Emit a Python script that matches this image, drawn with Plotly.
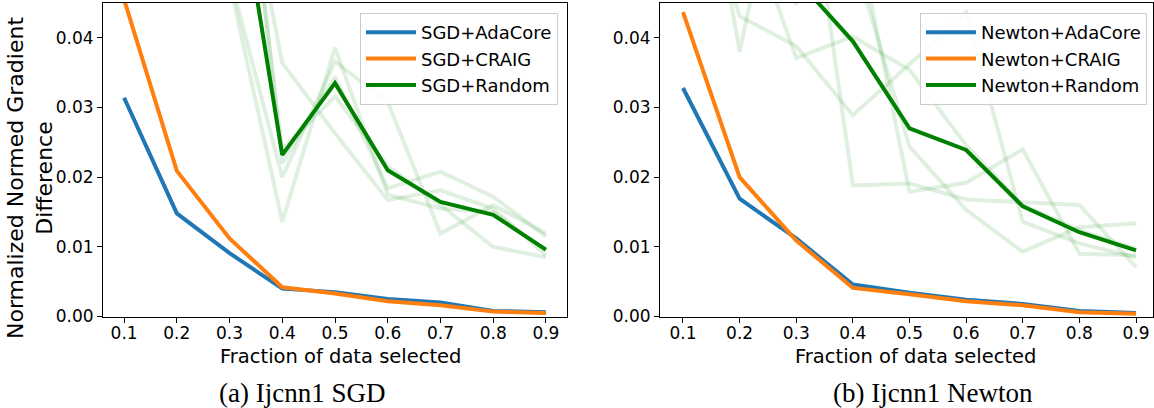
import plotly.graph_objects as go

# ---------------- data ----------------
fractions = [0.1, 0.2, 0.3, 0.4, 0.5, 0.6, 0.7, 0.8, 0.9]
x_ticks = [0.1, 0.2, 0.3, 0.4, 0.5, 0.6, 0.7, 0.8, 0.9]
x_tick_labels = ["0.1", "0.2", "0.3", "0.4", "0.5", "0.6", "0.7", "0.8", "0.9"]
y_ticks = [0.0, 0.01, 0.02, 0.03, 0.04]
y_tick_labels = ["0.00", "0.01", "0.02", "0.03", "0.04"]

# (a) Ijcnn1 SGD
sgd_adacore = [0.0314, 0.0148, 0.0091, 0.0040, 0.0035, 0.0025, 0.0020, 0.0008, 0.0006]
sgd_craig = [0.0455, 0.0209, 0.0112, 0.0042, 0.0033, 0.0022, 0.0016, 0.0007, 0.0005]
sgd_random = [0.125, 0.095, 0.070, 0.0232, 0.0335, 0.0210, 0.01645, 0.0146, 0.0096]
sgd_random_run1 = [0.120, 0.085, 0.048, 0.0136, 0.0386, 0.0175, 0.0155, 0.0150, 0.0094]
sgd_random_run2 = [0.130, 0.100, 0.075, 0.0364, 0.0263, 0.0167, 0.0181, 0.0155, 0.0088]
sgd_random_run3 = [0.115, 0.090, 0.049, 0.0200, 0.0366, 0.0308, 0.0119, 0.0160, 0.0119]
sgd_random_run4 = [0.125, 0.095, 0.090, 0.0220, 0.0344, 0.0184, 0.0208, 0.0172, 0.0115]
sgd_random_run5 = [0.135, 0.105, 0.085, 0.0240, 0.0316, 0.0216, 0.0160, 0.0100, 0.0085]

# (b) Ijcnn1 Newton
newton_adacore = [0.0328, 0.0169, 0.0112, 0.0046, 0.0034, 0.0024, 0.0018, 0.0008, 0.0005]
newton_craig = [0.0437, 0.0200, 0.0109, 0.0041, 0.0032, 0.0022, 0.0016, 0.0006, 0.0004]
newton_random = [0.080, 0.062, 0.0485, 0.0395, 0.0270, 0.0239, 0.0158, 0.0121, 0.0095]
newton_random_run1 = [0.085, 0.038, 0.076, 0.0188, 0.0191, 0.0168, 0.0164, 0.0160, 0.0071]
newton_random_run2 = [0.070, 0.0431, 0.0388, 0.0289, 0.0362, 0.0436, 0.0136, 0.0105, 0.0085]
newton_random_run3 = [0.090, 0.060, 0.0371, 0.0402, 0.0354, 0.0246, 0.0160, 0.0124, 0.0097]
newton_random_run4 = [0.100, 0.070, 0.050, 0.058, 0.0179, 0.0192, 0.0240, 0.0090, 0.0088]
newton_random_run5 = [0.110, 0.075, 0.045, 0.052, 0.0244, 0.0153, 0.0093, 0.0128, 0.0134]

sgd_runs = [sgd_random_run1, sgd_random_run2, sgd_random_run3, sgd_random_run4, sgd_random_run5]
newton_runs = [newton_random_run1, newton_random_run2, newton_random_run3,
               newton_random_run4, newton_random_run5]

sgd_names = ["SGD+AdaCore", "SGD+CRAIG", "SGD+Random"]
newton_names = ["Newton+AdaCore", "Newton+CRAIG", "Newton+Random"]

# ---------------- styles ----------------
BLUE = "#1f77b4"
ORANGE = "#ff7f0e"
GREEN = "#008000"
FAINT = "rgba(0,128,0,0.12)"
LW = 4
W, H = 1154, 408
FONT = "DejaVu Sans"

fig = go.Figure()


def add_panel(xa, ya, legend, runs, ada, craig, rnd, names):
    for r in runs:
        fig.add_trace(go.Scatter(x=fractions, y=r, mode="lines", xaxis=xa, yaxis=ya,
                                 line=dict(color=FAINT, width=LW), showlegend=False,
                                 hoverinfo="skip"))
    for i, (vals, col, nm) in enumerate([(ada, BLUE, names[0]), (craig, ORANGE, names[1]),
                                         (rnd, GREEN, names[2])]):
        fig.add_trace(go.Scatter(x=fractions, y=vals, mode="lines", xaxis=xa, yaxis=ya,
                                 name=nm, legend=legend,
                                 line=dict(color=col, width=LW)))


add_panel("x", "y", "legend", sgd_runs, sgd_adacore, sgd_craig, sgd_random, sgd_names)
add_panel("x2", "y2", "legend2", newton_runs, newton_adacore, newton_craig, newton_random,
          newton_names)

y_bot = 1 - 316.5 / H
y_top = 1 - 3 / H

axis_common = dict(showline=True, mirror=True, linecolor="black", linewidth=1,
                   ticks="outside", ticklen=5, tickwidth=1.3, tickcolor="black",
                   showgrid=False, zeroline=False, automargin=False,
                   tickfont=dict(family=FONT, size=17, color="black"))

legend_common = dict(yanchor="top", xanchor="right", y=1 - 13 / H,
                     bgcolor="rgba(255,255,255,0.85)", bordercolor="#cccccc", borderwidth=1,
                     itemwidth=50,
                     font=dict(family=FONT, size=18, color="black"))

fig.update_layout(
    width=W, height=H,
    margin=dict(l=0, r=0, t=0, b=0, autoexpand=False),
    paper_bgcolor="white", plot_bgcolor="white",
    xaxis=dict(domain=[103 / W, 567 / W], range=[0.06, 0.94], ticklabelstandoff=-4,
               tickvals=x_ticks, ticktext=x_tick_labels, anchor="y", **axis_common),
    yaxis=dict(domain=[y_bot, y_top], range=[0, 0.045],
               tickvals=y_ticks, ticktext=y_tick_labels, anchor="x", **axis_common),
    xaxis2=dict(domain=[660 / W, 1153 / W], range=[0.0594, 0.930], ticklabelstandoff=-4,
                tickvals=x_ticks, ticktext=x_tick_labels, anchor="y2", **axis_common),
    yaxis2=dict(domain=[y_bot, y_top], range=[0, 0.045],
                tickvals=y_ticks, ticktext=y_tick_labels, anchor="x2", **axis_common),
    legend=dict(x=558 / W, **legend_common),
    legend2=dict(x=1147 / W, **legend_common),
    showlegend=True,
)

annotations = [
    dict(text="Normalized Normed Gradient<br>Difference", x=30 / W, y=1 - 178 / H,
         xref="paper", yref="paper", xanchor="center", yanchor="middle", textangle=-90,
         showarrow=False, font=dict(family=FONT, size=22, color="black")),
    dict(text="Fraction of data selected", x=340 / W, y=1 - 356 / H, xref="paper", yref="paper",
         xanchor="center", yanchor="middle", showarrow=False,
         font=dict(family=FONT, size=19.5, color="black")),
    dict(text="Fraction of data selected", x=915 / W, y=1 - 356 / H, xref="paper", yref="paper",
         xanchor="center", yanchor="middle", showarrow=False,
         font=dict(family=FONT, size=19.5, color="black")),
    dict(text="(a) Ijcnn1 SGD", x=302 / W, y=1 - 393 / H, xref="paper", yref="paper",
         xanchor="center", yanchor="middle", showarrow=False,
         font=dict(family="Liberation Serif", size=27, color="black")),
    dict(text="(b) Ijcnn1 Newton", x=933 / W, y=1 - 393 / H, xref="paper", yref="paper",
         xanchor="center", yanchor="middle", showarrow=False,
         font=dict(family="Liberation Serif", size=27, color="black")),
]
fig.update_layout(annotations=annotations)

fig.write_html("out.html")
